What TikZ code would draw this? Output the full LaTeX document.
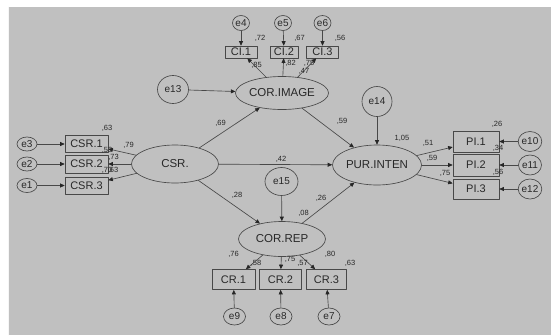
\documentclass[tikz,border=0pt]{standalone}
\usepackage{fontspec}
\setmainfont{Liberation Sans}
\usetikzlibrary{shapes.geometric,arrows.meta}
\definecolor{panel}{RGB}{192,192,192}
\definecolor{ink}{RGB}{72,72,72}
\definecolor{txt}{RGB}{40,40,40}
\tikzset{latent/.style={ellipse,draw=ink,line width=.65pt,inner sep=0pt,text=txt,font=\fontsize{11.5}{12}\selectfont},
 manifest/.style={rectangle,draw=ink,line width=.65pt,inner sep=0pt,text=txt,font=\fontsize{11}{12}\selectfont},
 err/.style={ellipse,draw=ink,line width=.65pt,inner sep=0pt,text=txt,font=\fontsize{10}{11}\selectfont},
 coef/.style={inner sep=0pt,text=txt,font=\fontsize{7.5}{8}\selectfont},
 reg/.style={draw=ink,line width=.65pt,-{Triangle[length=4.5pt,width=4pt,color=black!85]}},
 every picture/.style={line join=round,line cap=round}}

\begin{document}
\begin{tikzpicture}[x=1pt,y=-1pt]
\useasboundingbox (0,0) rectangle (551,335);
\fill[panel] (8,7) rectangle (551,335);
\draw[white!85!panel,line width=.8pt] (8.4,7) -- (8.4,335);
% latent variables
\node[latent,minimum width=85pt,minimum height=33pt] (img) at (282,93) {COR.IMAGE};
\node[latent,minimum width=89pt,minimum height=40pt] (pur) at (377,165) {PUR.INTEN};
\node[latent,minimum width=87pt,minimum height=38pt] (csr) at (175,164) {CSR.};
\node[latent,minimum width=87pt,minimum height=35pt] (rep) at (282,239) {COR.REP};
% observed variables
\node[manifest,minimum width=32pt,minimum height=12pt] (ci1) at (241,52) {CI.1};
\node[manifest,minimum width=28pt,minimum height=12pt] (ci2) at (284,52) {CI.2};
\node[manifest,minimum width=32pt,minimum height=12pt] (ci3) at (322.5,52) {CI.3};
\node[manifest,minimum width=43pt,minimum height=17pt] (csr1) at (86.5,144) {CSR.1};
\node[manifest,minimum width=43pt,minimum height=18pt] (csr2) at (86.5,164) {CSR.2};
\node[manifest,minimum width=43pt,minimum height=17pt] (csr3) at (86.5,185.5) {CSR.3};
\node[manifest,minimum width=46pt,minimum height=21pt] (pi1) at (476,141.5) {PI.1};
\node[manifest,minimum width=46pt,minimum height=22pt] (pi2) at (476,165) {PI.2};
\node[manifest,minimum width=46pt,minimum height=20pt] (pi3) at (476,189) {PI.3};
\node[manifest,minimum width=43pt,minimum height=20pt] (cr1) at (233.5,279.5) {CR.1};
\node[manifest,minimum width=42pt,minimum height=20pt] (cr2) at (280.5,279.5) {CR.2};
\node[manifest,minimum width=40pt,minimum height=20pt] (cr3) at (326.5,279.5) {CR.3};
% errors
\node[err,minimum width=17pt,minimum height=15pt] (e4) at (241,23) {e4};
\node[err,minimum width=17pt,minimum height=15pt] (e5) at (283,23) {e5};
\node[err,minimum width=17pt,minimum height=15pt] (e6) at (322.5,23) {e6};
\node[err,minimum width=31pt,minimum height=28pt] (e13) at (173,89.5) {e13};
\node[err,minimum width=30pt,minimum height=30pt] (e14) at (377,101.5) {e14};
\node[err,minimum width=33pt,minimum height=28pt] (e15) at (281.5,181.5) {e15};
\node[err,minimum width=20pt,minimum height=14pt] (e3) at (27,144) {e3};
\node[err,minimum width=20pt,minimum height=14pt] (e2) at (27,164) {e2};
\node[err,minimum width=20pt,minimum height=14pt] (e1) at (27,185.5) {e1};
\node[err,minimum width=23pt,minimum height=20pt] (e10) at (530,141.5) {e10};
\node[err,minimum width=23pt,minimum height=20pt] (e11) at (530,165) {e11};
\node[err,minimum width=23pt,minimum height=20pt] (e12) at (530,189) {e12};
\node[err,minimum width=22pt,minimum height=17pt] (e9) at (234.5,316.5) {e9};
\node[err,minimum width=22pt,minimum height=17pt] (e8) at (281,316.5) {e8};
\node[err,minimum width=22pt,minimum height=17pt] (e7) at (329,316.5) {e7};
% structural paths
\draw[reg] (csr) -- (img);
\draw[reg] (csr) -- (pur);
\draw[reg] (csr) -- (rep);
\draw[reg] (img) -- (pur);
\draw[reg] (rep) -- (pur);
\draw[reg] (e13) -- (img);
\draw[reg] (e14) -- (pur);
\draw[reg] (e15) -- (rep);
% measurement paths
\draw[reg] (img) -- (ci1);
\draw[reg] (img) -- (ci2);
\draw[reg] (img) -- (ci3);
\draw[reg] (e4) -- (ci1);
\draw[reg] (e5) -- (ci2);
\draw[reg] (e6) -- (ci3);
\draw[reg] (csr) -- (csr1);
\draw[reg] (csr) -- (csr2);
\draw[reg] (csr) -- (csr3);
\draw[reg] (e3) -- (csr1);
\draw[reg] (e2) -- (csr2);
\draw[reg] (e1) -- (csr3);
\draw[reg] (pur) -- (pi1);
\draw[reg] (pur) -- (pi2);
\draw[reg] (pur) -- (pi3);
\draw[reg] (e10) -- (pi1);
\draw[reg] (e11) -- (pi2);
\draw[reg] (e12) -- (pi3);
\draw[reg] (rep) -- (cr1);
\draw[reg] (rep) -- (cr2);
\draw[reg] (rep) -- (cr3);
\draw[reg] (e9) -- (cr1);
\draw[reg] (e8) -- (cr2);
\draw[reg] (e7) -- (cr3);
% estimates
\node[coef] at (260,38) {,72};
\node[coef] at (299.5,38) {,67};
\node[coef] at (340,38) {,56};
\node[coef] at (256.5,65) {,85};
\node[coef] at (290.5,63) {,82};
\node[coef] at (309,63) {,75};
\node[coef] at (304,71) {,47};
\node[coef] at (220.5,123) {,69};
\node[coef] at (342,121) {,59};
\node[coef] at (402,138.5) {1,05};
\node[coef] at (428,143) {,51};
\node[coef] at (432,158) {,59};
\node[coef] at (445,173.5) {,75};
\node[coef] at (497,124) {,26};
\node[coef] at (498,148) {,34};
\node[coef] at (498,172) {,56};
\node[coef] at (107,128) {,63};
\node[coef] at (128.5,145) {,79};
\node[coef] at (107,150) {,53};
\node[coef] at (113.5,157) {,73};
\node[coef] at (107,170.5) {,70};
\node[coef] at (113,170.5) {,63};
\node[coef] at (281,159) {,42};
\node[coef] at (237,195.5) {,28};
\node[coef] at (321,198) {,26};
\node[coef] at (303.5,213) {,08};
\node[coef] at (233.5,254) {,76};
\node[coef] at (256,263.5) {,58};
\node[coef] at (290,259) {,75};
\node[coef] at (302.5,263.5) {,57};
\node[coef] at (330,254) {,80};
\node[coef] at (350,263.5) {,63};
\end{tikzpicture}
\end{document}
